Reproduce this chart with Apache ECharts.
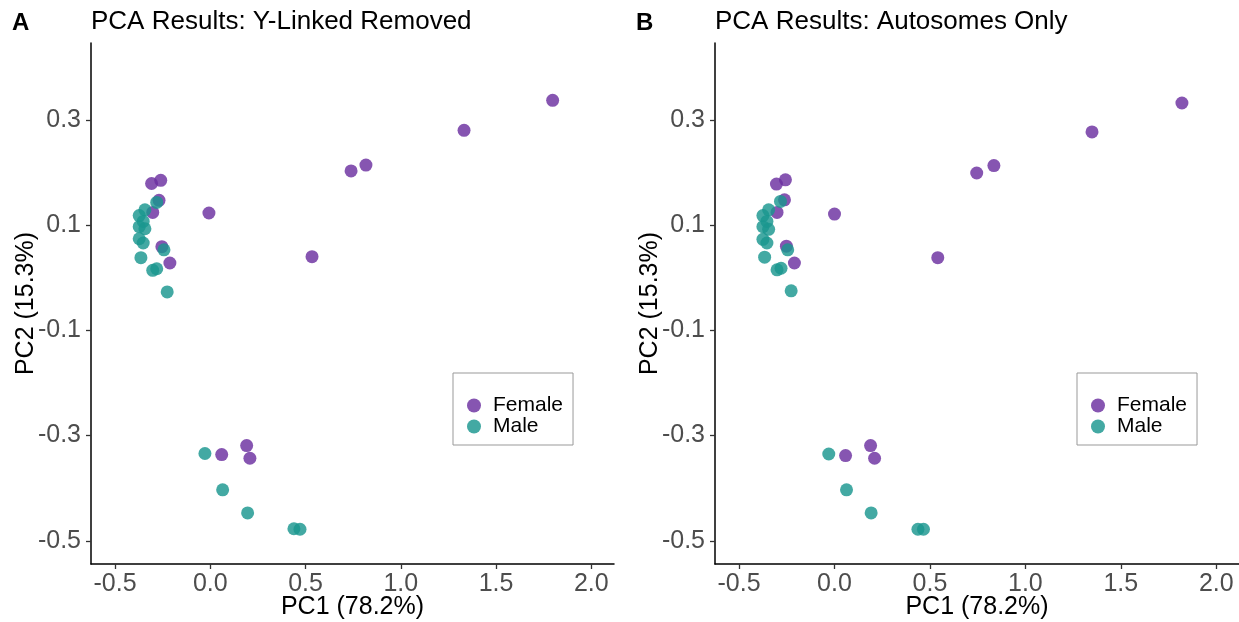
<!DOCTYPE html>
<html>
<head>
<meta charset="utf-8">
<title>PCA Results</title>
<script src="https://cdn.jsdelivr.net/npm/echarts@6/dist/echarts.min.js"></script>
<style>
  html, body { margin: 0; padding: 0; background: #fff; }
  #chart { width: 1239px; height: 622px; }
</style>
</head>
<body>
<div id="chart"></div>
<script>
// Panel A: Y-linked genes removed — [PC1, PC2] per sample
const femaleA = [
  [1.797, 0.337], [1.332, 0.280], [0.817, 0.214], [0.739, 0.203], [0.534, 0.040],
  [-0.007, 0.123], [-0.308, 0.179], [-0.260, 0.185], [-0.269, 0.147], [-0.302, 0.124],
  [-0.254, 0.059], [-0.212, 0.028], [0.060, -0.336], [0.191, -0.319], [0.208, -0.343]
];
const maleA = [
  [-0.281, 0.143], [-0.343, 0.129], [-0.373, 0.118], [-0.352, 0.107], [-0.373, 0.097],
  [-0.343, 0.093], [-0.373, 0.074], [-0.352, 0.066], [-0.243, 0.053], [-0.364, 0.038],
  [-0.302, 0.014], [-0.281, 0.017], [-0.226, -0.027], [-0.028, -0.334], [0.065, -0.403],
  [0.196, -0.447], [0.439, -0.477], [0.471, -0.478]
];
// Panel B: autosomes only
const femaleB = [
  [1.820, 0.332], [1.349, 0.277], [0.835, 0.213], [0.745, 0.199], [0.541, 0.038],
  [0.000, 0.121], [-0.304, 0.178], [-0.257, 0.186], [-0.262, 0.148], [-0.301, 0.124],
  [-0.252, 0.060], [-0.210, 0.028], [0.058, -0.338], [0.189, -0.319], [0.210, -0.343]
];
const maleB = [
  [-0.283, 0.145], [-0.345, 0.129], [-0.375, 0.118], [-0.354, 0.107], [-0.375, 0.097],
  [-0.345, 0.092], [-0.375, 0.073], [-0.354, 0.066], [-0.245, 0.053], [-0.366, 0.039],
  [-0.301, 0.015], [-0.280, 0.018], [-0.227, -0.025], [-0.030, -0.335], [0.063, -0.403],
  [0.192, -0.447], [0.437, -0.478], [0.466, -0.478]
];

const xTicks = [-0.5, 0.0, 0.5, 1.0, 1.5, 2.0];
const yTicks = [-0.5, -0.3, -0.1, 0.1, 0.3];
const xRange = [-0.626, 2.119];
const yRange = [-0.544, 0.446];
const panelTitles = ['PCA Results: Y-Linked Removed', 'PCA Results: Autosomes Only'];
const panelTags = ['A', 'B'];
const groups = ['Female', 'Male'];
const colors = { Female: '#6B2FA0', Male: '#1A968F' };

const FONT = '"Liberation Sans", Arial, Helvetica, sans-serif';

function makeX(gridIndex) {
  return {
    type: 'value', gridIndex,
    min: xRange[0], max: xRange[1],
    name: 'PC1 (78.2%)', nameLocation: 'middle', nameGap: 31, nameMoveOverlap: false,
    nameTextStyle: { fontFamily: FONT, fontSize: 25, color: '#000' },
    splitLine: { show: false },
    axisLine: { show: true, onZero: false, lineStyle: { color: '#000', width: 1.5 } },
    axisTick: { show: true, length: 5, lineStyle: { color: '#333', width: 1.3 }, customValues: xTicks },
    axisLabel: {
      customValues: xTicks, margin: 8,
      fontFamily: FONT, fontSize: 25, color: '#4D4D4D',
      formatter: v => v.toFixed(1)
    }
  };
}
function makeY(gridIndex) {
  return {
    type: 'value', gridIndex,
    min: yRange[0], max: yRange[1],
    name: 'PC2 (15.3%)', nameLocation: 'middle', nameGap: 52, nameMoveOverlap: false,
    nameTextStyle: { fontFamily: FONT, fontSize: 25, color: '#000' },
    splitLine: { show: false },
    axisLine: { show: true, onZero: false, lineStyle: { color: '#000', width: 1.5 } },
    axisTick: { show: true, length: 5, lineStyle: { color: '#333', width: 1.3 }, customValues: yTicks },
    axisLabel: {
      customValues: yTicks, margin: 10,
      fontFamily: FONT, fontSize: 25, color: '#4D4D4D',
      formatter: v => v.toFixed(1)
    }
  };
}
function makeSeries(name, data, idx) {
  return {
    type: 'scatter', name, data,
    xAxisIndex: idx, yAxisIndex: idx,
    symbol: 'circle', symbolSize: 13,
    itemStyle: { color: colors[name], opacity: 0.82 },
    emphasis: { disabled: true },
    silent: true
  };
}
function makeLegend(left) {
  return {
    data: groups, orient: 'vertical',
    left, top: 373,
    padding: [22, 10, 8, 14],
    itemWidth: 28, itemHeight: 14, itemGap: 0,
    icon: 'circle',
    borderColor: '#999', borderWidth: 1,
    textStyle: { fontFamily: FONT, fontSize: 21, lineHeight: 20, color: '#000' },
    selectedMode: false
  };
}

const chart = echarts.init(document.getElementById('chart'), null, { renderer: 'canvas' });
chart.setOption({
  backgroundColor: '#fff',
  animation: false,
  title: [
    { text: panelTags[0], left: 12, top: 11, padding: 0, textStyle: { fontFamily: FONT, fontSize: 24, fontWeight: 'bold', color: '#000' } },
    { text: panelTitles[0], left: 91, top: 9, padding: 0, textStyle: { fontFamily: FONT, fontSize: 26, fontWeight: 'normal', color: '#000' } },
    { text: panelTags[1], left: 636, top: 11, padding: 0, textStyle: { fontFamily: FONT, fontSize: 24, fontWeight: 'bold', color: '#000' } },
    { text: panelTitles[1], left: 715, top: 9, padding: 0, textStyle: { fontFamily: FONT, fontSize: 26, fontWeight: 'normal', color: '#000' } }
  ],
  grid: [
    { left: 91, right: 625, top: 43, bottom: 58, outerBoundsMode: 'none' },
    { left: 715, right: 0, top: 43, bottom: 58, outerBoundsMode: 'none' }
  ],
  xAxis: [makeX(0), makeX(1)],
  yAxis: [makeY(0), makeY(1)],
  legend: [makeLegend(453), makeLegend(1077)],
  series: [
    makeSeries('Female', femaleA, 0),
    makeSeries('Male', maleA, 0),
    makeSeries('Female', femaleB, 1),
    makeSeries('Male', maleB, 1)
  ]
});
</script>
</body>
</html>
